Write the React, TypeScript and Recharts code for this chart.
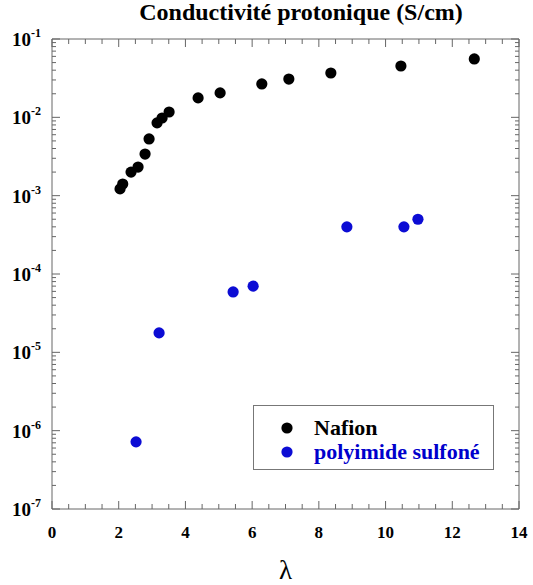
import { ScatterChart, Scatter, XAxis, YAxis, Legend, ReferenceArea } from 'recharts'

// λ (water molecules per acid site) and proton conductivity (S/cm)
const LAMBDA_NAFION = [2.04, 2.12, 2.37, 2.58, 2.79, 2.91, 3.15, 3.3, 3.51, 4.38, 5.04, 6.29, 7.1, 8.36, 10.46, 12.66]
const SIGMA_NAFION = [1.22e-3, 1.41e-3, 2.0e-3, 2.32e-3, 3.4e-3, 5.3e-3, 8.5e-3, 9.8e-3, 1.17e-2, 1.77e-2, 2.05e-2, 2.67e-2, 3.08e-2, 3.68e-2, 4.52e-2, 5.56e-2]
const LAMBDA_PI = [2.52, 3.21, 5.43, 6.03, 8.84, 10.55, 10.97]
const SIGMA_PI = [7.2e-7, 1.77e-5, 5.9e-5, 7.0e-5, 4.0e-4, 4.0e-4, 5.0e-4]

const X_LABELS = [0, 2, 4, 6, 8, 10, 12, 14]
const DECADES = [-7, -6, -5, -4, -3, -2, -1]

const X_TICKS = Array.from({ length: 29 }, (_, i) => i * 0.5)
const Y_TICKS = DECADES.flatMap((e) =>
  e === -1 ? [Math.pow(10, e)] : [1, 2, 3, 4, 5, 6, 7, 8, 9].map((m) => m * Math.pow(10, e))
)

const nafion = LAMBDA_NAFION.map((x, i) => ({ x, y: SIGMA_NAFION[i] }))
const polyimide = LAMBDA_PI.map((x, i) => ({ x, y: SIGMA_PI[i] }))

const FONT = '"Liberation Serif", "Times New Roman", serif'
const AXIS_COLOR = '#666'
const BLUE = '#0c0cd4'

const WIDTH = 533
const HEIGHT = 585
const PLOT_LEFT = 52
const PLOT_RIGHT = 519
const PLOT_TOP = 39
const PLOT_BOTTOM = 509

function XTick(props: any) {
  const { x, payload } = props
  const v = payload.value as number
  const major = X_LABELS.includes(v)
  const len = major ? 8 : 5
  return (
    <g>
      <line x1={x} x2={x} y1={PLOT_BOTTOM} y2={PLOT_BOTTOM - len} stroke={AXIS_COLOR} />
      <line x1={x} x2={x} y1={PLOT_TOP} y2={PLOT_TOP + len} stroke={AXIS_COLOR} />
      {major && (
        <text
          x={x}
          y={PLOT_BOTTOM + 29}
          textAnchor="middle"
          style={{ fontFamily: FONT, fontWeight: 'bold', fontSize: 17 }}
          fill="#000"
        >
          {v}
        </text>
      )}
    </g>
  )
}

function YTick(props: any) {
  const { y, payload } = props
  const v = payload.value as number
  const exp = Math.log10(v)
  const major = Math.abs(exp - Math.round(exp)) < 1e-6
  const len = major ? 8 : 4
  return (
    <g>
      <line x1={PLOT_LEFT} x2={PLOT_LEFT + len} y1={y} y2={y} stroke={AXIS_COLOR} />
      <line x1={PLOT_RIGHT} x2={PLOT_RIGHT - len} y1={y} y2={y} stroke={AXIS_COLOR} />
      {major && (
        <text x={41} y={y + 7} textAnchor="end" style={{ fontFamily: FONT, fontWeight: 'bold' }} fill="#000">
          <tspan style={{ fontSize: 19 }}>10</tspan>
          <tspan style={{ fontSize: 12 }} dy={-9}>
            {Math.round(exp)}
          </tspan>
        </text>
      )}
    </g>
  )
}

function LambdaLabel(props: any) {
  const { viewBox } = props
  const cx = viewBox.x + viewBox.width / 2
  return (
    <text x={cx} y={viewBox.y + viewBox.height - 6} textAnchor="middle" style={{ fontFamily: FONT, fontSize: 27 }} fill="#000">
      λ
    </text>
  )
}

function Dot(props: any) {
  const { cx, cy, fill } = props
  return <circle cx={cx} cy={cy} r={5.6} fill={fill} />
}

function LegendBox(props: any) {
  const { payload } = props
  return (
    <div
      style={{
        width: 241,
        height: 65,
        border: '1px solid #777',
        background: '#fff',
        boxSizing: 'border-box',
        paddingTop: 10,
        fontFamily: FONT,
        fontWeight: 'bold',
        fontSize: 22,
      }}
    >
      {(payload || []).map((entry: any) => (
        <div key={entry.value} style={{ display: 'flex', alignItems: 'center', height: 24 }}>
          <svg width={60} height={14}>
            <circle cx={33} cy={7} r={5.6} fill={entry.color} />
          </svg>
          <span style={{ color: entry.color === '#000' ? '#000' : '#0000cc', lineHeight: 1 }}>{entry.value}</span>
        </div>
      ))}
    </div>
  )
}

export default function App() {
  return (
    <div style={{ position: 'absolute', left: 0, top: 0, width: WIDTH, height: HEIGHT, background: '#fff' }}>
      <div
        style={{
          position: 'absolute',
          left: 0,
          top: 0,
          width: 602,
          textAlign: 'center',
          fontFamily: FONT,
          fontWeight: 'bold',
          fontSize: 24,
          lineHeight: 1,
          zIndex: 2,
        }}
      >
        Conductivité protonique (S/cm)
      </div>
      <ScatterChart
        width={WIDTH}
        height={HEIGHT}
        margin={{ top: PLOT_TOP, right: WIDTH - PLOT_RIGHT, bottom: 0, left: 0 }}
      >
        <XAxis
          type="number"
          dataKey="x"
          domain={[0, 14]}
          ticks={X_TICKS}
          interval={0}
          allowDataOverflow
          height={HEIGHT - PLOT_BOTTOM}
          axisLine={false}
          tickLine={false}
          tickSize={0}
          tickMargin={0}
          tick={<XTick />}
          label={{ position: 'insideBottom', content: <LambdaLabel /> }}
        />
        <YAxis
          type="number"
          dataKey="y"
          scale="log"
          domain={[1e-7, 1e-1]}
          ticks={Y_TICKS}
          interval={0}
          allowDataOverflow
          width={PLOT_LEFT}
          axisLine={false}
          tickLine={false}
          tickSize={0}
          tickMargin={0}
          tick={<YTick />}
        />
        <ReferenceArea x1={0} x2={14} y1={1e-7} y2={1e-1} fill="none" stroke={AXIS_COLOR} strokeWidth={1} />
        <Legend
          layout="horizontal"
          verticalAlign="middle"
          align="center"
          wrapperStyle={{ position: 'absolute', left: 253, top: 405, width: 241, height: 65 }}
          content={<LegendBox />}
        />
        <Scatter name="Nafion" data={nafion} fill="#000" shape={<Dot />} isAnimationActive={false} />
        <Scatter name="polyimide sulfoné" data={polyimide} fill={BLUE} shape={<Dot />} isAnimationActive={false} />
      </ScatterChart>
    </div>
  )
}
